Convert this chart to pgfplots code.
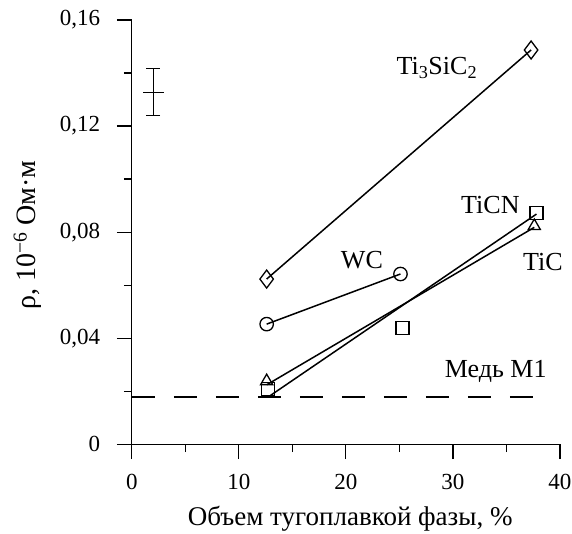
\documentclass[border=0pt]{standalone}
\usepackage{fontspec}
\setmainfont{Liberation Serif}
\usepackage{pgfplots}
\pgfplotsset{compat=1.18}

\begin{document}
\begin{tikzpicture}
\begin{axis}[
    scale only axis,
    width=428pt, height=424pt,
    xmin=0, xmax=40, ymin=0, ymax=0.16,
    axis x line*=bottom, axis y line*=left,
    axis line style={line width=1.3pt},
    xtick={0,10,20,30,40},
    ytick={0,0.04,0.08,0.12,0.16},
    yticklabels={0,{0,04},{0,08},{0,12},{0,16}},
    minor x tick num=1, minor y tick num=1,
    tick align=outside,
    major tick length=15pt, minor tick length=8pt,
    tick style={line width=1.2pt, black},
    ticklabel style={font=\fontsize{23}{25}\selectfont},
    yticklabel style={xshift=-13pt},
    xticklabel style={yshift=-11pt},
    /pgf/number format/assume math mode=true,
    scaled y ticks=false,
    xlabel={Объем тугоплавкой фазы, \%},
    ylabel={ρ, 10\textsuperscript{−6} Ом·м},
    xlabel style={font=\fontsize{27}{29}\selectfont,
        at={(axis description cs:0.51,-0.175)}, anchor=center},
    ylabel style={font=\fontsize{28}{30}\selectfont,
        at={(axis description cs:-0.243,0.493)}, anchor=center},
    clip=false,
]
% Ti3SiC2
\addplot[black, line width=1.5pt, mark=diamond, mark size=9pt,
    mark options={line width=1.3pt, fill=white}] coordinates {(12.6,0.0623)(37.3,0.1487)};
% WC
\addplot[black, line width=1.5pt, mark=o, mark size=6.7pt,
    mark options={line width=1.3pt, fill=white}] coordinates {(12.6,0.0453)(25.1,0.0642)};
% TiCN fitted line
\addplot[black, line width=1.5pt] coordinates {(12.7,0.0177)(37.8,0.0868)};
% TiC fitted line
\addplot[black, line width=1.5pt] coordinates {(12.6,0.0224)(37.6,0.0818)};
\addplot[black, only marks, mark=triangle, mark size=7pt,
    mark options={line width=1.3pt}] coordinates {(12.6,0.0238)(37.6,0.0823)};
\addplot[black, only marks, mark=square, mark size=6.5pt,
    mark options={line width=1.3pt, fill=white}] coordinates {(12.7,0.0208)(25.3,0.0438)(37.8,0.0872)};
% copper M1 level
\addplot[black, line width=2pt, dash pattern=on 23pt off 19pt] coordinates {(0,0.0178)(37.7,0.0178)};
% error bar
\addplot[black, line width=0.8pt, mark=-, mark size=10.5pt,
    error bars/.cd, y dir=both, y explicit,
    error bar style={line width=0.8pt},
    error mark options={rotate=90, mark size=7pt, line width=0.8pt}]
    coordinates {(2,0.1328) +- (0,0.0088)};
\node[font=\fontsize{26}{28}\selectfont] at (axis cs:28.5,0.1420) {Ti\textsubscript{3}SiC\textsubscript{2}};
\node[font=\fontsize{26}{28}\selectfont] at (axis cs:33.5,0.0902) {TiCN};
\node[font=\fontsize{26}{28}\selectfont] at (axis cs:38.4,0.0687) {TiC};
\node[font=\fontsize{26}{28}\selectfont] at (axis cs:21.5,0.0694) {WC};
\node[font=\fontsize{26}{28}\selectfont] at (axis cs:34.0,0.0275) {Медь М1};
\coordinate (bl) at (rel axis cs:0,0);
\coordinate (tr) at (rel axis cs:1,1);
\end{axis}
\pgfresetboundingbox
\path ([shift={(-131.7pt,-89pt)}]bl) rectangle ([shift={(12pt,20pt)}]tr);
\end{tikzpicture}
\end{document}
